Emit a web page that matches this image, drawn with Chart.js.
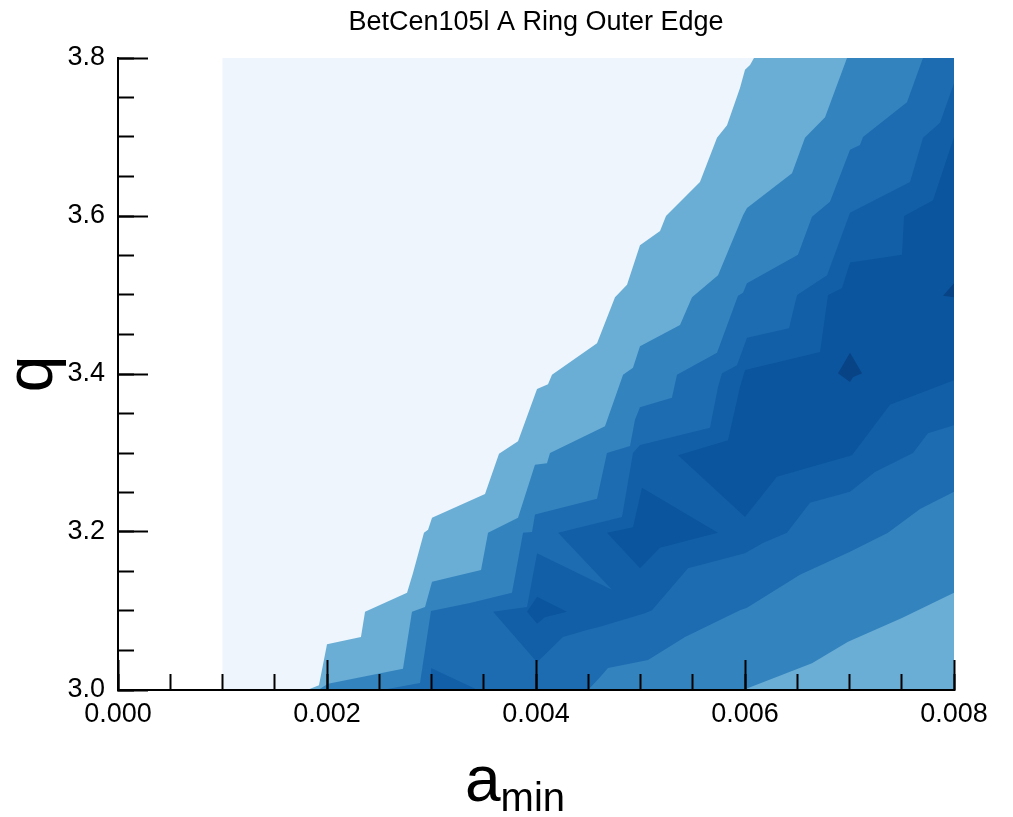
<!DOCTYPE html>
<html>
<head>
<meta charset="utf-8">
<script src="https://cdn.jsdelivr.net/npm/chart.js@4/dist/chart.umd.min.js"></script>
<style>
  html, body { margin: 0; padding: 0; background: #fff; }
  #wrap { width: 1013px; height: 817px; position: relative; }
</style>
</head>
<body>
<div id="wrap"><canvas id="chart"></canvas></div>
<script>
// contour bands, [a_min, q] pairs, lowest level first
const level0 = [[0.001, 3.0], [0.008, 3.0], [0.008, 3.8], [0.001, 3.8]];

const level1 = [
    [0.001809, 3.000], [0.001923, 3.006], [0.002000, 3.058], [0.002325, 3.067], [0.002364, 3.099],
    [0.002766, 3.123], [0.002823, 3.148], [0.002928, 3.199], [0.002967, 3.203], [0.003005, 3.218],
    [0.003512, 3.248], [0.003646, 3.299], [0.003828, 3.315], [0.004010, 3.381], [0.004115, 3.387],
    [0.004153, 3.399], [0.004584, 3.439], [0.004756, 3.497], [0.004871, 3.513], [0.004995, 3.563],
    [0.005187, 3.581], [0.005244, 3.600], [0.005569, 3.643], [0.005732, 3.699], [0.005828, 3.715],
    [0.005952, 3.762], [0.006000, 3.785], [0.006048, 3.791], [0.006086, 3.800],
    [0.008, 3.800], [0.008, 3.000]
];

const level2 = [
    [0.001914, 3.000], [0.002010, 3.008], [0.002727, 3.027], [0.002813, 3.099], [0.002938, 3.105],
    [0.003005, 3.137], [0.003474, 3.152], [0.003541, 3.199], [0.003828, 3.218], [0.003990, 3.285],
    [0.004105, 3.287], [0.004134, 3.300], [0.004660, 3.334], [0.004833, 3.399], [0.004928, 3.408],
    [0.004995, 3.435], [0.005378, 3.462], [0.005493, 3.497], [0.005742, 3.525], [0.005981, 3.601],
    [0.006019, 3.610], [0.006450, 3.654], [0.006574, 3.699], [0.006766, 3.725], [0.006976, 3.800],
    [0.008, 3.800], [0.008, 3.123], [0.007502, 3.091], [0.006986, 3.061], [0.006641, 3.034],
    [0.005981, 3.000]
];

const level3 = [
    [0.002526, 3.000], [0.002890, 3.009], [0.002995, 3.100], [0.003368, 3.110], [0.003770, 3.123],
    [0.003876, 3.199], [0.003962, 3.200], [0.003990, 3.222], [0.004584, 3.242], [0.004679, 3.300],
    [0.004900, 3.309], [0.004947, 3.342], [0.004995, 3.358], [0.005301, 3.370], [0.005349, 3.399],
    [0.005732, 3.427], [0.005933, 3.499], [0.005981, 3.503], [0.006019, 3.515], [0.006507, 3.551],
    [0.006641, 3.599], [0.006813, 3.618], [0.007005, 3.684], [0.007100, 3.690], [0.007129, 3.700],
    [0.007550, 3.744], [0.007703, 3.800], [0.008, 3.800], [0.008, 3.251], [0.007675, 3.229],
    [0.007368, 3.199], [0.007005, 3.175], [0.006526, 3.146], [0.006019, 3.104], [0.005952, 3.101],
    [0.005426, 3.067], [0.005072, 3.038], [0.004689, 3.028], [0.004612, 3.016], [0.004498, 3.000]
];

const level4Corner = [[0.002995, 3.028], [0.003445, 3.000], [0.002995, 3.000]];

const level4 = [
    [0.003589, 3.099], [0.003914, 3.105], [0.004010, 3.173], [0.004727, 3.127], [0.004211, 3.199],
    [0.004823, 3.219], [0.004928, 3.300], [0.004995, 3.310], [0.005665, 3.332], [0.005742, 3.384],
    [0.005780, 3.401], [0.005923, 3.411], [0.006019, 3.446], [0.006421, 3.458], [0.006498, 3.500],
    [0.006785, 3.525], [0.007005, 3.604], [0.007579, 3.643], [0.007703, 3.699], [0.007866, 3.718],
    [0.008, 3.768], [0.008, 3.335], [0.007751, 3.325], [0.007608, 3.300], [0.007244, 3.276],
    [0.007005, 3.251], [0.006622, 3.237], [0.006402, 3.199], [0.006172, 3.186], [0.006000, 3.173],
    [0.005455, 3.154], [0.005110, 3.101], [0.005043, 3.097], [0.004612, 3.080], [0.004488, 3.076],
    [0.004258, 3.067], [0.004134, 3.051], [0.004010, 3.035]
];

const level5Small = [[0.003914, 3.099], [0.004010, 3.118], [0.004297, 3.099], [0.004086, 3.092], [0.004010, 3.084]];

const level5Mid = [[0.004679, 3.199], [0.004995, 3.154], [0.005187, 3.180], [0.005742, 3.199], [0.005014, 3.256], [0.004928, 3.206]];

const level5 = [
    [0.005952, 3.384], [0.006000, 3.405], [0.006718, 3.428], [0.006794, 3.500], [0.006928, 3.509],
    [0.007005, 3.541], [0.007502, 3.551], [0.007522, 3.600], [0.007799, 3.620], [0.008, 3.700],
    [0.008, 3.392], [0.007388, 3.361], [0.007024, 3.297], [0.006306, 3.270], [0.006000, 3.219],
    [0.005359, 3.297], [0.005837, 3.316]
];

const level6 = [[0.006890, 3.401], [0.007005, 3.427], [0.007120, 3.401], [0.007033, 3.396], [0.007005, 3.390]];
const level6Edge = [[0.007895, 3.499], [0.008, 3.497], [0.008, 3.515]];

const bandColors = ['#eef5fc', '#6aaed6', '#3383be', '#1d6cb1', '#135fa7', '#0b559f', '#084386'];

const xMajorStep = 0.002, xMinorStep = 0.0005;
const yMajorStep = 0.2, yMinorStep = 0.05;

const FONT = "'Liberation Sans', Arial, sans-serif";

const shapes = [
    [level0, 0], [level1, 1], [level2, 2], [level3, 3], [level4Corner, 4], [level4, 4],
    [level5Small, 5], [level5Mid, 5], [level5, 5], [level6, 6], [level6Edge, 6]
];

// first dataset is drawn on top, so give the lower levels a higher order
const datasets = shapes.map(([pts, lvl], i) => ({
    data: pts.map(([a, q]) => ({ x: a, y: q })),
    showLine: true,
    fill: 'shape',
    backgroundColor: bandColors[lvl],
    borderWidth: 0,
    pointRadius: 0,
    tension: 0,
    order: shapes.length - i
}));

// x axis label with subscript
const xTitle = {
    id: 'xTitle',
    afterDraw(chart) {
        const { ctx, scales: { x } } = chart;
        const cx = (x.left + x.right) / 2;
        ctx.save();
        ctx.fillStyle = '#000';
        ctx.textBaseline = 'alphabetic';
        ctx.textAlign = 'left';
        ctx.font = `64px ${FONT}`;
        const aw = ctx.measureText('a').width;
        const left = cx - 71;
        ctx.fillText('a', left, 801);
        ctx.font = `40px ${FONT}`;
        ctx.fillText('min', left + aw, 811);
        ctx.restore();
    }
};

const tickFont = { family: FONT, size: 27 };

new Chart(document.getElementById('chart'), {
    type: 'scatter',
    data: { datasets },
    plugins: [xTitle],
    options: {
        responsive: true,
        maintainAspectRatio: false,
        animation: false,
        layout: { padding: { left: 0, right: 59, top: 0, bottom: 0 } },
        plugins: {
            legend: { display: false },
            tooltip: { enabled: false },
            title: {
                display: true,
                fullSize: false,
                text: 'BetCen105l A Ring Outer Edge',
                color: '#000',
                font: { family: FONT, size: 27, weight: 'normal', lineHeight: 1.2 },
                padding: { top: 6, bottom: 19.6 }
            }
        },
        scales: {
            x: {
                type: 'linear', position: 'bottom', min: 0, max: 0.008, weight: 10,
                afterFit: s => { s.height = 127; s.paddingLeft = 0; s.paddingRight = 0; },
                ticks: {
                    stepSize: xMajorStep, autoSkip: false, maxRotation: 0, padding: 38,
                    color: '#000', font: tickFont, callback: v => v.toFixed(3)
                },
                grid: { drawOnChartArea: false, drawTicks: true, tickLength: -30, tickColor: '#000', tickWidth: 2, z: 1 },
                border: { display: true, color: '#000', width: 2, z: 1 }
            },
            xMinor: {
                type: 'linear', position: 'bottom', min: 0, max: 0.008, weight: 0,
                afterFit: s => { s.height = 0; s.paddingLeft = 0; s.paddingRight = 0; },
                ticks: { stepSize: xMinorStep, display: false },
                grid: { drawOnChartArea: false, drawTicks: true, tickLength: -16, tickColor: '#000', tickWidth: 2, z: 1 },
                border: { display: false }
            },
            y: {
                type: 'linear', position: 'left', min: 3.0, max: 3.8, weight: 10,
                afterFit: s => { s.width = 118; s.paddingTop = 0; s.paddingBottom = 0; },
                ticks: {
                    stepSize: yMajorStep, autoSkip: false, padding: 43,
                    color: '#000', font: tickFont, callback: v => v.toFixed(1)
                },
                title: {
                    display: true, text: 'q', color: '#000',
                    font: { family: FONT, size: 66, lineHeight: 1 },
                    padding: { top: 1, bottom: 0 }
                },
                grid: { drawOnChartArea: false, drawTicks: true, tickLength: -30, tickColor: '#000', tickWidth: 2, z: 1 },
                border: { display: true, color: '#000', width: 2, z: 1 }
            },
            yMinor: {
                type: 'linear', position: 'left', min: 3.0, max: 3.8, weight: 0,
                afterFit: s => { s.width = 0; s.paddingTop = 0; s.paddingBottom = 0; },
                ticks: { stepSize: yMinorStep, display: false },
                grid: { drawOnChartArea: false, drawTicks: true, tickLength: -16, tickColor: '#000', tickWidth: 2, z: 1 },
                border: { display: false }
            }
        }
    }
});
</script>
</body>
</html>
